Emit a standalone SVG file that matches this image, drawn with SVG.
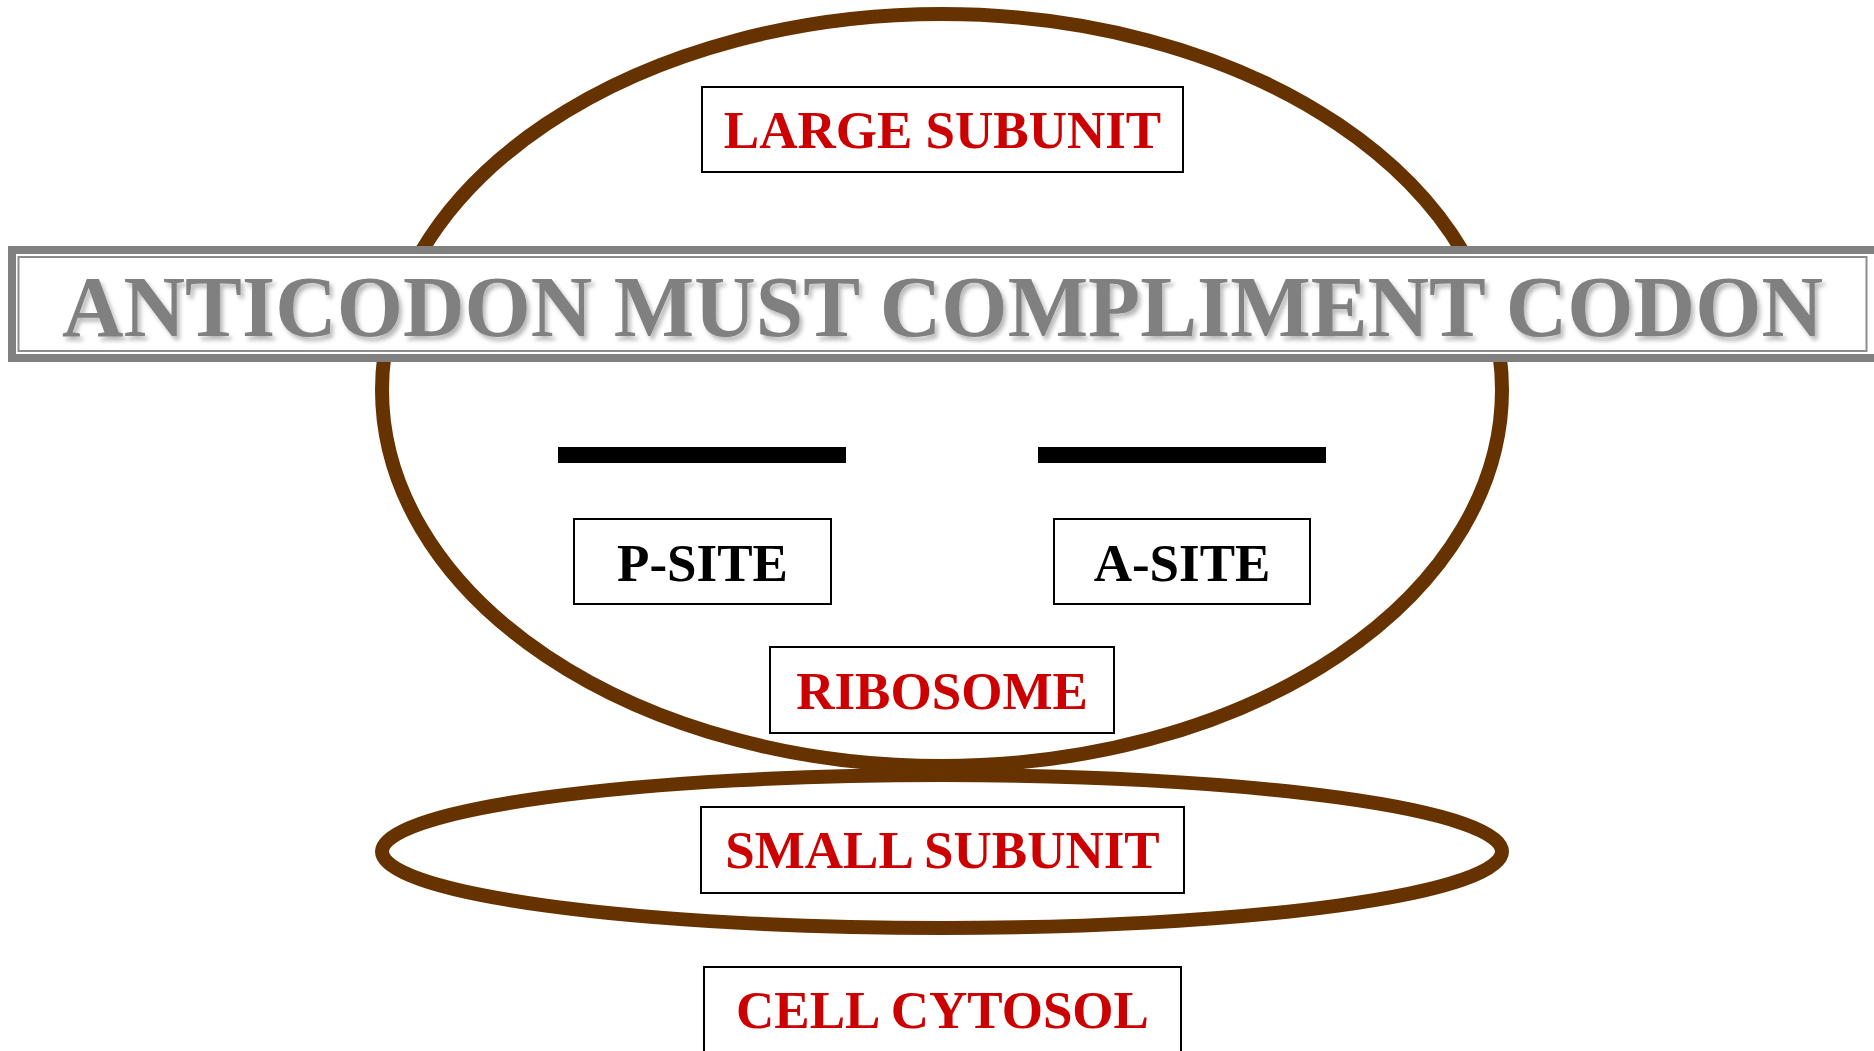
<svg xmlns="http://www.w3.org/2000/svg" width="1874" height="1051" viewBox="0 0 1874 1051">
  <defs>
    <filter id="soft-shadow" x="-5%" y="-20%" width="110%" height="150%">
      <feDropShadow dx="3" dy="4" stdDeviation="2" flood-color="#000000" flood-opacity="0.28"/>
    </filter>
  </defs>
  <style>
    .shell { fill: none; stroke: #663300; stroke-width: 14; }
    .box { fill: #ffffff; stroke: #000000; stroke-width: 2; }
    .label { font-family: "Liberation Serif", "Times New Roman", serif; font-weight: bold; font-size: 53px; text-anchor: middle; }
    .red { fill: #cc0000; }
    .black { fill: #000000; }
    .bar { fill: #000000; }
    .title { font-family: "Liberation Serif", "Times New Roman", serif; font-weight: bold; font-size: 87px; text-anchor: middle; fill: #808080; }
  </style>

  <rect width="1874" height="1051" fill="#ffffff"/>

  <!-- ribosome subunits -->
  <g id="large-subunit-shell">
    <ellipse class="shell" cx="942" cy="390" rx="560" ry="376"/>
  </g>
  <g id="small-subunit-shell">
    <ellipse class="shell" cx="942" cy="851.5" rx="560" ry="76.5"/>
  </g>

  <!-- headline banner with thick/thin frame -->
  <g id="headline">
    <rect x="12" y="250" width="1872" height="108" fill="#ffffff" stroke="#808080" stroke-width="8"/>
    <rect x="18.5" y="257" width="1848" height="94" fill="none" stroke="#8c8c8c" stroke-width="2"/>
    <text class="title" x="942.5" y="336" textLength="1761" lengthAdjust="spacingAndGlyphs" filter="url(#soft-shadow)">ANTICODON MUST COMPLIMENT CODON</text>
  </g>

  <g id="large-subunit">
    <rect class="box" x="702" y="87" width="481" height="85"/>
    <text class="label red" x="942.5" y="148">LARGE SUBUNIT</text>
  </g>

  <!-- binding site bars -->
  <g id="p-site-bar"><rect class="bar" x="558" y="447" width="288" height="16"/></g>
  <g id="a-site-bar"><rect class="bar" x="1038" y="447" width="288" height="16"/></g>

  <g id="p-site">
    <rect class="box" x="574" y="519" width="257" height="85"/>
    <text class="label black" x="702.5" y="580.5">P-SITE</text>
  </g>
  <g id="a-site">
    <rect class="box" x="1054" y="519" width="256" height="85"/>
    <text class="label black" x="1182" y="580.5">A-SITE</text>
  </g>

  <g id="ribosome">
    <rect class="box" x="770" y="647" width="344" height="86"/>
    <text class="label red" x="942" y="709">RIBOSOME</text>
  </g>

  <g id="small-subunit">
    <rect class="box" x="701" y="807" width="483" height="86"/>
    <text class="label red" x="942.5" y="868">SMALL SUBUNIT</text>
  </g>

  <g id="cell-cytosol">
    <rect class="box" x="704" y="967" width="477" height="100"/>
    <text class="label red" x="942.5" y="1028">CELL CYTOSOL</text>
  </g>

  <g id="connectors"></g>
</svg>
